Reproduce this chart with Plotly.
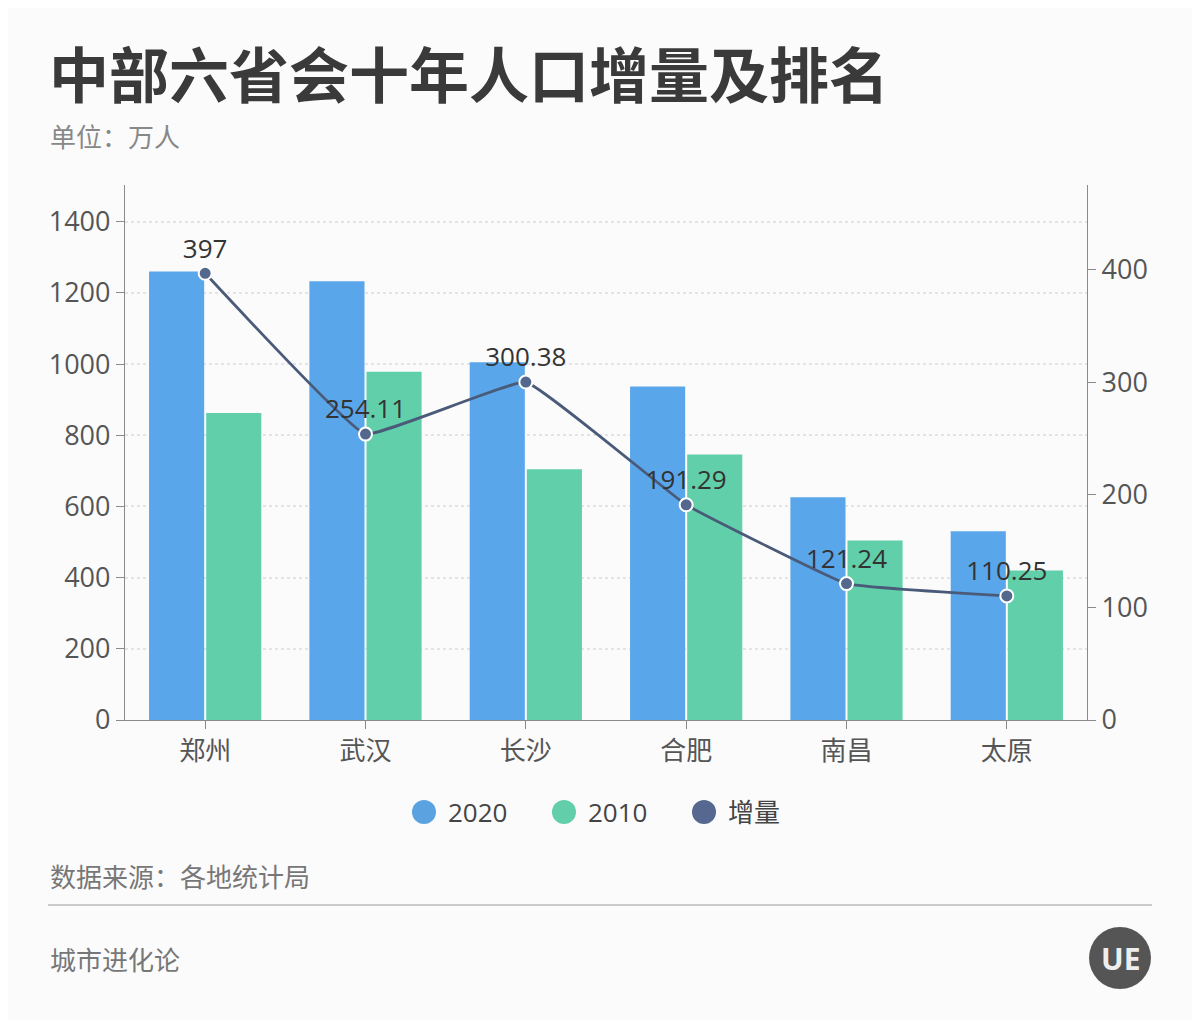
import plotly.graph_objects as go

cities = ["郑州", "武汉", "长沙", "合肥", "南昌", "太原"]
pop_2020 = [1260.06, 1232.65, 1004.79, 936.99, 625.50, 530.41]
pop_2010 = [862.65, 978.54, 704.41, 745.70, 504.26, 420.16]
increase = [397, 254.11, 300.38, 191.29, 121.24, 110.25]
increase_labels = ["397", "254.11", "300.38", "191.29", "121.24", "110.25"]
left_ticks = [0, 200, 400, 600, 800, 1000, 1200, 1400]
right_ticks = [0, 100, 200, 300, 400]

# page body margin offset (figure is drawn at (8, 8) in the window)
OFF = 8
W, H = 1200 - OFF, 1020 - OFF
# plot area in screen pixels: x 125..1087, y 185..720
PL, PR, PT, PB = 125, 1087, 185, 720
ML, MT = PL - OFF, PT - OFF
MR, MB = W - (PR - OFF), H - (PB - OFF)
PW, PH = PR - PL, PB - PT


def px(x):
    return (x - PL) / PW


def py(y):
    return (PB - y) / PH


C2020 = "#5AA6EA"
C2010 = "#61D0AA"
CLINE = "#4A5B7A"
FONT = "Open Sans, Noto Sans CJK SC, sans-serif"
CJK = "Noto Sans CJK SC, sans-serif"

fig = go.Figure()
fig.add_trace(go.Bar(x=cities, y=pop_2020, name="2020", marker=dict(color=C2020, line=dict(width=0)),
                     showlegend=False))
fig.add_trace(go.Bar(x=cities, y=pop_2010, name="2010", marker=dict(color=C2010, line=dict(width=0)),
                     showlegend=False))
fig.add_trace(go.Scatter(x=cities, y=increase, name="增量", yaxis="y2", mode="lines+markers+text",
                         line=dict(color=CLINE, width=2.8, shape="spline", smoothing=0.25),
                         marker=dict(size=13, color="#53688C", line=dict(color="white", width=2)),
                         text=increase_labels, textposition="top center",
                         textfont=dict(size=26, color="#333333", family=FONT),
                         showlegend=False, cliponaxis=False))

fig.update_layout(
    width=W, height=H,
    margin=dict(l=ML, r=MR, t=MT, b=MB, pad=0),
    paper_bgcolor="#FBFBFC", plot_bgcolor="#FBFBFC",
    barmode="group", bargap=0.2875, bargroupgap=0.035,
    font=dict(family=FONT, color="#555555"),
    xaxis=dict(showline=True, linecolor="#8A8A8A", linewidth=1.2, ticks="outside", ticklen=8,
               tickcolor="#8A8A8A", tickfont=dict(size=26, color="#555555", family=CJK),
               range=[-0.5, 5.5], showgrid=False, zeroline=False),
    yaxis=dict(range=[0, 1503], tickvals=left_ticks, showline=True, linecolor="#8A8A8A", linewidth=1.2,
               ticks="outside", ticklen=8, tickcolor="#8A8A8A",
               tickfont=dict(size=27, color="#555555", family=FONT),
               showgrid=True, gridcolor="#E4E4E8", griddash="dot", gridwidth=1.5, zeroline=False),
    yaxis2=dict(range=[0, 475.5], tickvals=right_ticks, overlaying="y", side="right", showline=True,
                linecolor="#8A8A8A", linewidth=1.2, ticks="outside", ticklen=8, tickcolor="#8A8A8A",
                tickfont=dict(size=27, color="#555555", family=FONT), showgrid=False, zeroline=False),
)

annotations = [
    dict(text="<b>中部六省会十年人口增量及排名</b>", x=px(47), y=py(72), xanchor="left", yanchor="middle",
         font=dict(size=60, color="#3A3A3A", family=CJK)),
    dict(text="单位：万人", x=px(48), y=py(135), xanchor="left", yanchor="middle",
         font=dict(size=26, color="#888888", family=CJK)),
    dict(text="数据来源：各地统计局", x=px(48), y=py(875), xanchor="left", yanchor="middle",
         font=dict(size=26, color="#777777", family=CJK)),
    dict(text="城市进化论", x=px(48), y=py(958), xanchor="left", yanchor="middle",
         font=dict(size=26, color="#777777", family=CJK)),
    dict(text="<b>UE</b>", x=px(1120), y=py(958), xanchor="center", yanchor="middle",
         font=dict(size=30, color="#EEEEEE", family=FONT)),
]
shapes = [
    dict(type="line", xref="paper", yref="paper", x0=px(48), x1=px(1152), y0=py(905), y1=py(905),
         line=dict(color="#BBBBBB", width=1.5)),
    dict(type="circle", xref="paper", yref="paper", x0=px(1089), x1=px(1151), y0=py(989), y1=py(927),
         fillcolor="#555555", line=dict(width=0)),
]

legend_items = [("2020", "#5BA3E0", 424), ("2010", "#62CFAA", 564), ("增量", "#56688F", 704)]
for name, col, cx in legend_items:
    shapes.append(dict(type="circle", xref="paper", yref="paper", x0=px(cx - 12), x1=px(cx + 12),
                       y0=py(812 + 12), y1=py(812 - 12), fillcolor=col, line=dict(width=0)))
    annotations.append(dict(text=name, x=px(cx + 22), y=py(812), xanchor="left", yanchor="middle",
                            font=dict(size=26, color="#444444", family=FONT)))

for a in annotations:
    a.update(xref="paper", yref="paper", showarrow=False)
fig.update_layout(annotations=annotations, shapes=shapes)

fig.write_html("out.html")
